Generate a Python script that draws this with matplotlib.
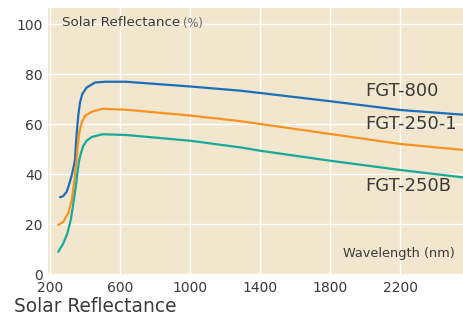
import matplotlib.pyplot as plt

# wavelength (nm) and solar reflectance (%)
wl_800 = [257, 276, 295, 308, 324, 337, 343, 348, 356, 361, 371, 384, 409, 457, 514, 635,
          1000, 1290, 1400, 1800, 2200, 2563]
fgt_800 = [30.7, 31.2, 32.9, 35.6, 39.6, 43.6, 46.0, 52.6, 59.3, 63.3, 68.6, 72.0, 74.6, 76.6, 76.9, 76.9,
           75.0, 73.3, 72.4, 69.1, 65.6, 63.7]

wl_250_1 = [247, 276, 304, 324, 337, 347, 351, 358, 367, 381, 400, 438, 500, 635,
            1000, 1290, 1400, 1800, 2200, 2563]
fgt_250_1 = [19.6, 20.9, 24.3, 29.6, 36.3, 42.9, 45.0, 51.3, 56.6, 60.6, 63.3, 64.9, 66.1, 65.7,
             63.4, 61.1, 60.0, 56.0, 52.0, 49.6]

wl_250b = [247, 276, 299, 318, 333, 347, 356, 365, 377, 390, 409, 438, 500, 635,
           1000, 1290, 1400, 1800, 2200, 2563]
fgt_250b = [8.9, 12.3, 16.3, 21.6, 28.3, 34.9, 40.3, 45.0, 48.5, 51.3, 53.3, 54.8, 55.9, 55.6,
            53.3, 50.6, 49.3, 45.3, 41.6, 38.6]

x_ticks = [200, 600, 1000, 1400, 1800, 2200]
y_ticks = [0, 20, 40, 60, 80, 100]

plt.rcParams['font.family'] = ['DejaVu Sans']
text_col = '#3a3a3a'

fig = plt.figure(figsize=(4.64, 3.17), dpi=100)
ax = fig.add_axes([48.3 / 464, 42 / 317, 1 - 48.3 / 464, 267 / 317])
ax.set_facecolor('#f2e6cf')

ax.plot(wl_800, fgt_800, color='#1b6fb8', lw=1.6, solid_capstyle='round')
ax.plot(wl_250_1, fgt_250_1, color='#f7931e', lw=1.6, solid_capstyle='round')
ax.plot(wl_250b, fgt_250b, color='#18a998', lw=1.6, solid_capstyle='round')

ax.set_xlim(190, 2563)
ax.set_ylim(-0.4, 106.4)
ax.set_xticks(x_ticks)
ax.set_yticks(y_ticks)
ax.grid(True, color='white', lw=1.0)
ax.set_axisbelow(True)
for s in ax.spines.values():
    s.set_visible(False)
ax.tick_params(length=0, labelsize=10, labelcolor=text_col, pad=4)

ax.text(267, 100.4, 'Solar Reflectance', fontsize=9.7, color=text_col, va='center')
ax.text(960, 100.4, '(%)', fontsize=8.3, color='#666666', va='center')
ax.text(2000, 73.3, 'FGT-800', fontsize=13, color=text_col, va='center')
ax.text(2000, 60.2, 'FGT-250-1', fontsize=13, color=text_col, va='center')
ax.text(2000, 35.3, 'FGT-250B', fontsize=13, color=text_col, va='center')
ax.text(2512, 8.3, 'Wavelength (nm)', fontsize=9.3, color=text_col, va='center', ha='right')

fig.text(14 / 464, 1 - 306.5 / 317, 'Solar Reflectance', fontsize=13.4, color=text_col, va='center')

fig.savefig('out.png', dpi=100)
